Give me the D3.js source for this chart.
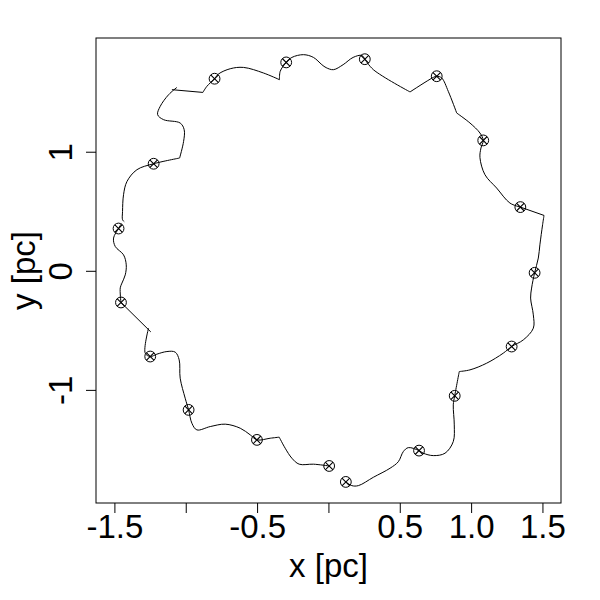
<!DOCTYPE html>
<html>
  <head>
    <title>Ring orbits</title>
    <script src="https://d3js.org/d3.v7.min.js"></script>
    <style>
      body { margin: 0; background: #fff; }
      text { font-family: "Liberation Sans", Arial, sans-serif; }
    </style>
  </head>
  <body>
    <div id="chart"></div>
    <script>
      // star positions (pc)
      var starX = [0.255, -0.296, -0.798, 0.759, 1.085, -1.225, 1.345, -1.471, 1.445,
                   -1.454, 1.284, -1.249, 0.885, -0.980, -0.501, 0.635, 0.005, 0.122];
      var starY = [1.777, 1.750, 1.613, 1.634, 1.095, 0.899, 0.535, 0.355, -0.017,
                   -0.266, -0.636, -0.720, -1.050, -1.168, -1.420, -1.510, -1.639, -1.773];

      // orbit trails, one array per piece
      var trails = [
        [[0.122,-1.773],[0.164,-1.804],[0.210,-1.804],[0.315,-1.734],[0.432,-1.658],[0.490,-1.603],
         [0.525,-1.518],[0.560,-1.485],[0.635,-1.510],[0.665,-1.532],[0.735,-1.552],[0.817,-1.532],
         [0.875,-1.434],[0.882,-1.294],[0.875,-1.126],[0.885,-1.050],[0.917,-0.846]],
        [[0.917,-0.846],[0.992,-0.832],[1.109,-0.776],[1.225,-0.692],[1.284,-0.636],[1.366,-0.580],
         [1.436,-0.482],[1.436,-0.370],[1.417,-0.229],[1.424,-0.145],[1.445,-0.017],[1.471,0.107],
         [1.482,0.218],[1.501,0.387],[1.511,0.465]],
        [[1.511,0.465],[1.345,0.535]],
        [[1.345,0.535],[1.272,0.569],[1.179,0.695],[1.097,0.807],[1.062,0.950],[1.069,1.031],
         [1.085,1.095],[1.062,1.157],[0.992,1.241],[0.899,1.325]],
        [[0.899,1.325],[0.840,1.507],[0.794,1.619],[0.759,1.634],[0.735,1.624],[0.572,1.502]],
        [[0.572,1.502],[0.315,1.689],[0.255,1.777]],
        [[0.255,1.777],[0.234,1.809],[0.173,1.792],[0.103,1.731],[0.035,1.689],[-0.016,1.706],
         [-0.046,1.731],[-0.105,1.792],[-0.175,1.815],[-0.256,1.792],[-0.296,1.750],[-0.338,1.675],
         [-0.343,1.605]],
        [[-0.343,1.605],[-0.455,1.661],[-0.595,1.708],[-0.688,1.697],[-0.770,1.653],[-0.798,1.613],
         [-0.852,1.549],[-0.880,1.498]],
        [[-0.880,1.498],[-1.097,1.521]],
        [[-1.062,1.540],[-1.120,1.479],[-1.179,1.381],[-1.197,1.311],[-1.155,1.269],[-1.039,1.241],
         [-1.011,1.185],[-1.015,1.087],[-1.043,0.947]],
        [[-1.043,0.947],[-1.225,0.899],[-1.342,0.849],[-1.412,0.750],[-1.436,0.639],[-1.443,0.498],
         [-1.443,0.429],[-1.431,0.412]],
        [[-1.452,0.395],[-1.471,0.355],[-1.506,0.275],[-1.494,0.204],[-1.436,0.134],[-1.417,0.050],
         [-1.424,-0.034],[-1.447,-0.103],[-1.459,-0.143],[-1.454,-0.266]],
        [[-1.454,-0.266],[-1.245,-0.513]],
        [[-1.261,-0.482],[-1.284,-0.692],[-1.249,-0.720],[-1.202,-0.700],[-1.132,-0.678],[-1.074,-0.683],
         [-1.046,-0.748],[-1.039,-0.902],[-1.004,-1.070],[-0.980,-1.168],[-0.957,-1.280],[-0.922,-1.336],
         [-0.828,-1.308],[-0.723,-1.288],[-0.618,-1.322],[-0.548,-1.378],[-0.501,-1.420],[-0.408,-1.406],
         [-0.345,-1.397]],
        [[-0.345,-1.397],[-0.303,-1.490],[-0.256,-1.574],[-0.205,-1.624],[-0.105,-1.624],[0.005,-1.639]]
      ];

      var xTicks = [-1.5, -1.0, -0.5, 0.0, 0.5, 1.0, 1.5];
      var xTickLabels = ["-1.5", "", "-0.5", "", "0.5", "1.0", "1.5"];
      var yTicks = [-1, 0, 1];
      var yTickLabels = ["-1", "0", "1"];

      var svg = d3.select('#chart').append('svg')
        .attr('width', 600)
        .attr('height', 600);

      var plotLeft = 96, plotRight = 561, plotTop = 38, plotBottom = 503;
      var fontSize = 33;

      var x = d3.scaleLinear().domain([-1.629, 1.630]).range([plotLeft, plotRight]);
      var y = d3.scaleLinear().domain([-1.95, 1.955]).range([plotBottom, plotTop]);

      // box
      svg.append('rect')
        .attr('x', plotLeft).attr('y', plotTop)
        .attr('width', plotRight - plotLeft).attr('height', plotBottom - plotTop)
        .attr('fill', 'none').attr('stroke', '#000').attr('stroke-width', 1);

      // x axis
      var xAxis = d3.axisBottom(x).tickValues(xTicks).tickSize(10).tickPadding(2)
        .tickFormat(function (d, i) { return xTickLabels[i]; });
      var gx = svg.append('g').attr('transform', 'translate(0,' + plotBottom + ')').call(xAxis);
      gx.select('.domain').remove();
      gx.selectAll('text').attr('font-size', fontSize).attr('fill', '#000')
        .attr('font-family', '"Liberation Sans", Arial, sans-serif');

      // y axis with rotated labels
      var yAxis = d3.axisLeft(y).tickValues(yTicks).tickSize(10)
        .tickFormat(function (d, i) { return yTickLabels[i]; });
      var gy = svg.append('g').attr('transform', 'translate(' + plotLeft + ',0)').call(yAxis);
      gy.select('.domain').remove();
      gy.selectAll('text')
        .attr('font-size', fontSize).attr('fill', '#000')
        .attr('font-family', '"Liberation Sans", Arial, sans-serif')
        .attr('x', null).attr('dy', null)
        .attr('text-anchor', 'middle')
        .attr('transform', 'translate(-24,0) rotate(-90)');

      // axis titles
      svg.append('text')
        .attr('x', (plotLeft + plotRight) / 2).attr('y', 577)
        .attr('text-anchor', 'middle').attr('font-size', fontSize)
        .text('x [pc]');
      svg.append('text')
        .attr('transform', 'translate(35,' + (plotTop + plotBottom) / 2 + ') rotate(-90)')
        .attr('text-anchor', 'middle').attr('font-size', fontSize)
        .text('y [pc]');

      // trails
      var line = d3.line()
        .x(function (d) { return x(d[0]); })
        .y(function (d) { return y(d[1]); })
        .curve(d3.curveCatmullRom.alpha(0.5));

      svg.selectAll('path.trail')
        .data(trails)
        .enter().append('path')
        .attr('class', 'trail')
        .attr('d', line)
        .attr('fill', 'none')
        .attr('stroke', '#000')
        .attr('stroke-width', 1);

      // stars: circle with a cross (pch 13)
      var stars = svg.selectAll('g.star')
        .data(starX.map(function (v, i) { return [v, starY[i]]; }))
        .enter().append('g')
        .attr('class', 'star')
        .attr('transform', function (d) { return 'translate(' + x(d[0]) + ',' + y(d[1]) + ')'; });
      stars.append('circle').attr('r', 5.4)
        .attr('fill', 'none').attr('stroke', '#000').attr('stroke-width', 1);
      stars.append('path').attr('d', 'M-3.9,-3.9L3.9,3.9M-3.9,3.9L3.9,-3.9')
        .attr('stroke', '#000').attr('stroke-width', 1.1);
    </script>
  </body>
</html>
